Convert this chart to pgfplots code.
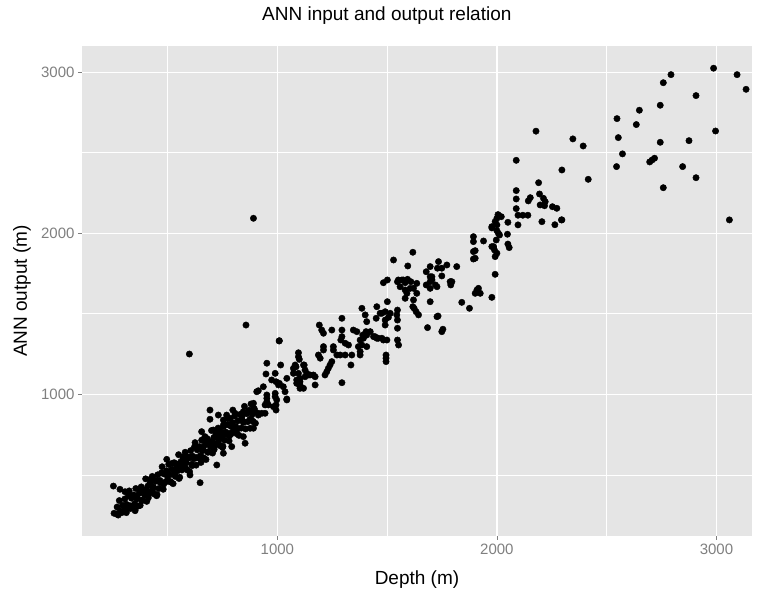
\documentclass[border=0pt]{standalone}
\usepackage{pgfplots}
\pgfplotsset{compat=1.18}
\usepackage{fontspec}
\setmainfont{Liberation Sans}
\definecolor{panelbg}{HTML}{E5E5E5}
\definecolor{ticklab}{HTML}{7F7F7F}
\begin{document}
\begin{tikzpicture}[x=1pt,y=1pt]
\useasboundingbox (-82,-60) rectangle (682,536);
\begin{axis}[
  at={(0,0)}, anchor=south west,
  scale only axis, width=670pt, height=490pt,
  xmin=110, xmax=3162, ymin=120, ymax=3163,
  axis background/.style={fill=panelbg},
  axis line style={draw=none},
  xtick={1000,2000,3000}, ytick={1000,2000,3000},
  minor xtick={500,1500,2500}, minor ytick={500,1500,2500},
  grid=both,
  major grid style={white, line width=1.2pt},
  minor grid style={white, line width=0.6pt},
  tick align=outside,
  xtick pos=bottom, ytick pos=left,
  major tick length=4pt, minor tick length=0pt,
  tick style={color=ticklab, line width=0.8pt},
  /pgf/number format/assume math mode=true,
  /pgf/number format/set thousands separator={},
  tick label style={font=\fontsize{15}{18}\selectfont, text=ticklab},
  title={ANN input and output relation},
  title style={at={(axis description cs:0.455,1.049)}, anchor=center, font=\fontsize{19}{22}\selectfont},
  xlabel={Depth (m)},
  xlabel style={at={(axis description cs:0.5,-0.0898)}, anchor=center, font=\fontsize{19}{22}\selectfont},
  ylabel={ANN output (m)},
  ylabel style={at={(axis description cs:-0.0896,0.5)}, anchor=center, font=\fontsize{19}{22}\selectfont},
]
\addplot[only marks, mark=*, mark size=3.2pt, black] table[x=x, y=y] {
x y
253 430
256 261
268 257
283 410
306 395
270 300
275 250
280 340
285 275
290 265
295 310
300 270
305 350
310 280
315 315
320 300
325 400
330 290
335 355
340 305
345 375
350 320
355 415
360 350
365 305
370 385
375 310
380 425
385 340
390 390
395 375
400 475
405 335
410 430
415 380
420 450
425 395
430 490
435 425
440 380
445 460
450 370
455 500
460 415
465 465
470 450
475 550
480 410
485 505
490 455
495 525
500 470
505 565
510 500
515 455
520 535
525 445
530 575
535 490
540 540
545 525
550 625
555 485
560 580
565 530
570 600
575 545
580 640
585 575
590 530
595 610
600 520
605 650
610 565
615 615
620 600
625 700
630 560
635 655
640 605
645 675
650 620
655 715
660 650
665 605
670 685
675 595
680 725
685 640
690 690
695 675
700 775
705 635
710 730
715 680
720 750
725 695
730 790
735 725
740 680
745 760
750 670
755 800
760 715
765 765
770 750
775 850
780 710
785 805
790 755
795 825
800 770
805 865
810 800
815 755
820 835
825 745
830 875
835 790
840 840
845 825
850 925
855 785
860 880
865 830
870 900
875 845
880 940
885 875
890 830
895 910
900 820
302 307
312 265
322 372
332 307
342 367
352 277
362 357
372 412
382 342
392 402
402 407
412 357
422 472
432 407
442 467
452 377
462 457
472 512
482 442
492 502
502 507
512 457
522 572
532 507
542 567
552 477
562 557
572 612
582 542
592 602
602 607
612 557
622 672
632 607
642 667
652 577
662 657
672 712
682 642
692 702
702 707
712 657
722 772
732 707
742 767
752 677
762 757
772 812
782 742
792 802
496 596
602 499
648 451
724 561
655 768
670 737
708 778
724 747
754 809
747 737
693 902
693 845
731 871
754 840
769 871
784 851
797 902
807 882
838 861
845 892
883 840
876 789
891 789
792 799
815 778
845 737
784 758
853 696
792 675
754 634
906 1016
936 1047
952 975
944 934
974 1089
994 1078
1005 1058
1027 1047
1035 1016
990 1006
997 965
1043 965
891 944
883 902
913 882
944 882
982 923
994 902
952 1193
948 1126
1015 1182
1073 1161
1096 1258
1100 1217
1122 1182
1134 1130
1149 1120
1172 1109
1009 1333
990 1130
1085 1171
1096 1130
1103 1099
1088 1068
1103 1037
913 1022
952 996
952 954
959 934
1009 1068
1043 1099
990 985
994 934
1043 971
898 892
913 871
929 882
1081 1182
1119 1182
1126 1151
1126 1109
1141 1120
1164 1120
1172 1058
1073 1130
1088 1089
1103 1058
1119 1037
1103 1078
1096 1233
1191 1430
1202 1399
1210 1379
1248 1399
1294 1399
1294 1358
1289 1337
1309 1317
1324 1306
1369 1296
1377 1265
1255 1296
1255 1275
1271 1244
1286 1244
1309 1244
1339 1244
1377 1244
1210 1296
1210 1275
1187 1244
1195 1224
1248 1203
1240 1182
1232 1161
1225 1140
1217 1120
1335 1182
1495 1244
1495 1224
1495 1203
1294 1072
1294 1472
1346 1399
1362 1389
1385 1534
1400 1493
1407 1451
1404 1389
1423 1389
1445 1358
1460 1348
1483 1337
1499 1337
1389 1368
1392 1348
1407 1368
1438 1358
1453 1348
1476 1348
1385 1306
1407 1296
1377 1337
1453 1544
1450 1472
1468 1503
1491 1513
1514 1503
1506 1478
1491 1461
1491 1430
1501 1575
1529 1834
1547 1523
1547 1461
1547 1410
1547 1337
1552 1306
1544 1493
1476 1503
1483 1693
1501 1710
1547 1699
1567 1710
1582 1693
1593 1714
1608 1699
1635 1689
1559 1668
1582 1648
1605 1658
1635 1627
1590 1627
1582 1596
1620 1586
1617 1882
1594 1797
1678 1761
1696 1730
1696 1699
1678 1679
1696 1658
1727 1668
1623 1534
1632 1513
1643 1493
1684 1414
1727 1482
1617 1544
1749 1389
1696 1575
1720 1679
1704 1710
1734 1824
1749 1783
1772 1803
1817 1793
1787 1699
1696 1793
1729 1783
1704 1730
1749 1735
1790 1699
1790 1679
1732 1486
1754 1404
1840 1571
1875 1534
1620 1658
1551 1710
1574 1710
1795 1699
1893 1979
1893 1948
1939 1952
1977 1917
1989 1896
2050 1933
2056 1911
1901 1892
1992 1855
1893 1840
1992 1745
1909 1648
1916 1658
1901 1627
1977 1602
2005 2116
2020 2103
1992 2072
2000 2052
2050 2068
1977 2033
2000 2016
2012 1989
2048 1994
1924 1627
1977 2041
2000 2093
2007 1999
1997 1958
1985 1917
2000 1876
1893 1886
1901 1845
2088 2453
2190 2314
2088 2265
2088 2213
2088 2153
2096 2112
2118 2112
2141 2112
2096 2052
2143 2201
2152 2221
2194 2244
2212 2217
2220 2196
2197 2176
2217 2171
2253 2165
2273 2155
2205 2072
2264 2053
2294 2083
2178 2634
2987 3025
3094 2985
3135 2894
2793 2985
2758 2935
2907 2855
2744 2795
2649 2764
2635 2675
2547 2712
2553 2594
2346 2586
2393 2542
2572 2493
2744 2565
2875 2575
2996 2635
2696 2443
2707 2455
2718 2466
2545 2414
2846 2414
2416 2335
2907 2345
2758 2283
2296 2393
2296 2083
3059 2083
891 2093
857 1430
599 1250
1008 1331
};
\end{axis}
\end{tikzpicture}
\end{document}
